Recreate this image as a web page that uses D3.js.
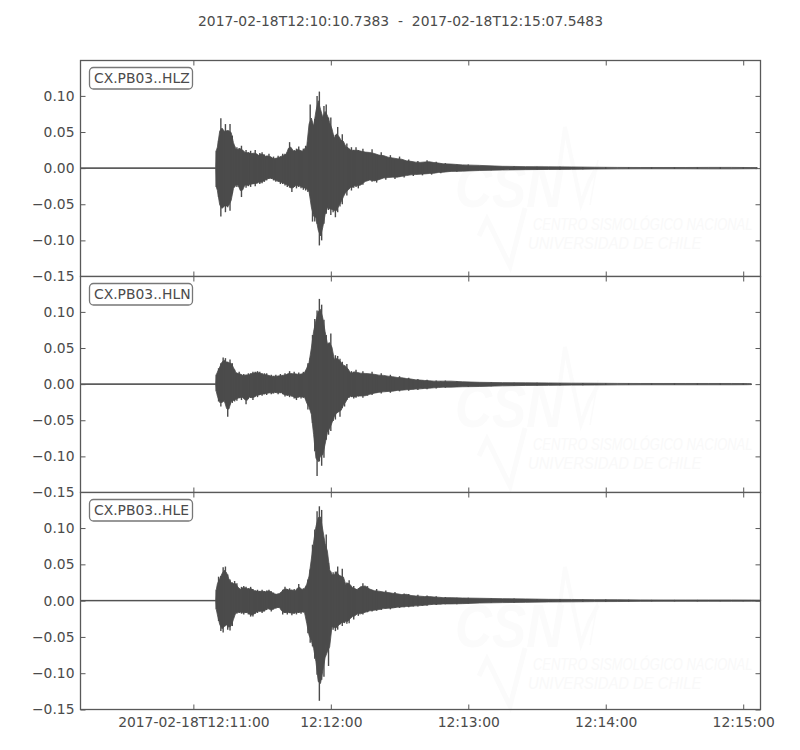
<!DOCTYPE html>
<html><head><meta charset="utf-8">
<script src="https://cdnjs.cloudflare.com/ajax/libs/d3/7.8.5/d3.min.js"></script>
<style>html,body{margin:0;padding:0;background:#fff}svg{display:block}text{font-family:"DejaVu Sans",sans-serif}</style>
</head><body><div id="chart"></div>
<script>
const title = "2017-02-18T12:10:10.7383  -  2017-02-18T12:15:07.5483";
const stations = ["CX.PB03..HLZ", "CX.PB03..HLN", "CX.PB03..HLE"];
const yTickValues = [-0.15, -0.10, -0.05, 0, 0.05, 0.10];
const xTickSeconds = [60, 120, 180, 240, 300];
const xTickLabels = ["2017-02-18T12:11:00", "12:12:00", "12:13:00", "12:14:00", "12:15:00"];
const startSecond = 10.7383, endSecond = 307.5483;
const endSeconds = [306, 303.5, 307.5];
const preEventHalfWidth = 0.0004;
const tailSeconds = [134,136,138,140,142,144,146,148,150,152,154,156,158,160,162,164,166,168,170,175,180,190,200,210,220,230,240,250,260,270,280,290,300];

// Envelope values, one per second from t = 70 s after 12:10:00, then at tailSeconds + channel end
const hiZ = [.024,.038,.069,.050,.061,.052,.061,.045,.030,.029,
 .028,.031,.023,.025,.022,.024,.020,.025,.018,.021,
 .022,.019,.017,.020,.015,.016,.013,.017,.016,.020,
 .020,.022,.036,.027,.025,.027,.030,.024,.027,.031,
 .036,.088,.060,.068,.100,.106,.066,.086,.088,.070,
 .070,.046,.046,.057,.036,.047,.032,.034,.027,.029,
 .025,.029,.025,
 .027,.021,.026,.017,.022,.015,.018,.012,.016,.010,.012,.008,.010,.007,.011,.008,.009,.006,.007,
 .005,.005,.003,.0025,.002,.002,.0015,.0012,.001,.001,.001,.001,.0012,.001,.0008];
const loZ = [-.026,-.040,-.067,-.054,-.061,-.054,-.059,-.035,-.026,-.026,
 -.026,-.040,-.024,-.027,-.025,-.026,-.022,-.025,-.021,-.022,
 -.021,-.019,-.017,-.015,-.015,-.017,-.019,-.019,-.022,-.022,
 -.024,-.026,-.027,-.033,-.026,-.028,-.026,-.028,-.030,-.031,
 -.033,-.038,-.074,-.074,-.077,-.107,-.100,-.077,-.063,-.058,
 -.065,-.061,-.068,-.061,-.053,-.050,-.035,-.038,-.028,-.031,
 -.027,-.026,-.028,
 -.023,-.017,-.019,-.020,-.014,-.016,-.012,-.015,-.012,-.013,-.009,-.011,-.008,-.010,-.007,-.009,-.006,-.007,-.005,
 -.005,-.004,-.003,-.0025,-.002,-.002,-.0015,-.0012,-.001,-.001,-.001,-.001,-.0012,-.001,-.0008];
const hiN = [.013,.022,.029,.037,.036,.031,.034,.029,.020,.015,
 .017,.013,.014,.013,.015,.015,.017,.017,.018,.017,
 .015,.015,.015,.012,.013,.011,.013,.011,.014,.012,
 .015,.014,.018,.014,.017,.014,.016,.014,.017,.018,
 .029,.036,.068,.090,.102,.118,.110,.089,.068,.054,
 .070,.036,.040,.039,.035,.031,.026,.028,.017,.018,
 .017,.020,.015,
 .018,.014,.017,.012,.015,.011,.013,.009,.011,.008,.009,.006,.007,.005,.006,.004,.005,.004,.005,
 .004,.003,.0025,.002,.002,.0015,.0015,.0012,.001,.001,.001,.001,.001,.001,.0007];
const loN = [-.010,-.024,-.031,-.024,-.026,-.045,-.028,-.026,-.024,-.023,
 -.019,-.022,-.018,-.028,-.020,-.019,-.022,-.017,-.018,-.015,
 -.016,-.014,-.015,-.012,-.014,-.013,-.012,-.014,-.012,-.014,
 -.017,-.016,-.018,-.017,-.020,-.022,-.018,-.020,-.019,-.020,
 -.035,-.035,-.054,-.093,-.127,-.107,-.113,-.102,-.077,-.070,
 -.065,-.051,-.049,-.038,-.045,-.033,-.031,-.022,-.019,-.018,
 -.020,-.019,-.017,
 -.019,-.016,-.015,-.012,-.013,-.010,-.012,-.009,-.010,-.008,-.009,-.007,-.008,-.006,-.007,-.005,-.006,-.004,-.005,
 -.004,-.004,-.003,-.002,-.002,-.0015,-.0015,-.0012,-.001,-.001,-.001,-.001,-.001,-.001,-.0007];
const hiE = [.015,.033,.034,.046,.047,.036,.029,.025,.027,.024,
 .015,.019,.020,.019,.017,.019,.016,.014,.015,.013,
 .015,.013,.014,.015,.013,.011,.009,.010,.011,.015,
 .019,.016,.017,.015,.016,.014,.023,.016,.017,.019,
 .029,.043,.077,.098,.123,.130,.125,.082,.091,.052,
 .040,.039,.040,.047,.027,.044,.024,.025,.028,.019,
 .020,.016,.017,
 .024,.020,.014,.016,.012,.014,.010,.012,.008,.010,.009,.006,.008,.005,.007,.005,.006,.004,.005,
 .004,.004,.003,.003,.002,.002,.0015,.0015,.0012,.001,.001,.001,.001,.001,.0008];
const loE = [-.012,-.028,-.042,-.044,-.033,-.040,-.041,-.035,-.019,-.018,
 -.017,-.018,-.019,-.017,-.019,-.022,-.022,-.018,-.017,-.015,
 -.017,-.015,-.013,-.011,-.015,-.012,-.011,-.010,-.010,-.019,
 -.017,-.019,-.017,-.020,-.018,-.019,-.017,-.018,-.016,-.019,
 -.045,-.058,-.063,-.080,-.102,-.138,-.109,-.105,-.060,-.090,
 -.040,-.040,-.042,-.040,-.033,-.035,-.031,-.032,-.031,-.022,
 -.026,-.019,-.021,
 -.019,-.016,-.015,-.014,-.013,-.011,-.012,-.010,-.010,-.009,-.009,-.008,-.008,-.007,-.007,-.005,-.006,-.005,-.005,
 -.005,-.004,-.003,-.003,-.002,-.002,-.0015,-.0015,-.0012,-.001,-.001,-.001,-.001,-.001,-.0008];
const highs = [hiZ, hiN, hiE], lows = [loZ, loN, loE];

const W = 800, H = 750, L = 80.5, R = 760.5, FS = 13.89;
const panelTops = [60.5, 276.5, 492.5], panelBottoms = [276.5, 492.5, 709.5];
const ink = "#4b4b4b", frame = "#595959";
const svg = d3.select("#chart").append("svg").attr("width", W).attr("height", H);

const t0 = Date.UTC(2017, 1, 18, 12, 10, 0);
const toDate = s => new Date(t0 + s * 1000);
const x = d3.scaleUtc().domain([toDate(startSecond), toDate(endSecond)]).range([L, R]);

svg.append("text").attr("x", 400.5).attr("y", 25.5).attr("text-anchor", "middle")
  .attr("font-size", FS).attr("fill", ink).attr("xml:space", "preserve")
  .style("white-space", "pre").text(title);

function watermark(g, dy) {
  const w = g.append("g").attr("transform", `translate(0,${dy})`).attr("pointer-events", "none");
  const c = "#fbfbfb";
  const txt = (label, px, py, size, sx, weight, fill) => w.append("text")
    .attr("transform", `translate(${px},${py}) scale(${sx},1)`).attr("font-size", size).attr("fill", fill)
    .attr("font-weight", weight).attr("font-style", "italic")
    .style("font-family", "'Liberation Sans'").text(label);
  txt("CSN", 455, 207, 61, 0.84, "bold", c);
  w.append("path").attr("fill", "none").attr("stroke", c).attr("stroke-width", 4).attr("stroke-linejoin", "miter")
    .attr("d", "M555,200L565,127L581,204L589,182L598,165");
  w.append("path").attr("fill", "none").attr("stroke", c).attr("stroke-width", 1.5).attr("d", "M598,160L590,205");
  w.append("path").attr("fill", "none").attr("stroke", c).attr("stroke-width", 5)
    .attr("d", "M479,236L487,219L510,266L525,208");
  txt("CENTRO SISMOLÓGICO NACIONAL", 533, 230, 17, 0.76, "normal", "#f9f9f9");
  txt("UNIVERSIDAD DE CHILE", 528, 249, 17, 0.87, "normal", "#f9f9f9");
}

stations.forEach((name, i) => {
  const top = panelTops[i], bot = panelBottoms[i];
  const y = d3.scaleLinear().domain([-0.15, 0.149]).range([bot, top]);
  const g = svg.append("g");

  g.append("rect").attr("x", L).attr("y", top).attr("width", R - L).attr("height", bot - top).attr("fill", "#fff");
  watermark(g, 220 * i);

  const times = [startSecond, 69.8, ...d3.range(70, 70 + 63), ...tailSeconds, endSeconds[i]];
  const hi = [preEventHalfWidth, preEventHalfWidth, ...highs[i]];
  const lo = [-preEventHalfWidth, -preEventHalfWidth, ...lows[i]];
  const rows = times.map((t, k) => ({ t, hi: hi[k], lo: lo[k] }));
  // solid body through the midpoints of neighbouring samples; every sample then stands out as a thin spike
  const active = rows.slice(2);
  const body = [rows[0], rows[1], active[0], ...active.map((d, k) => {
    const n = active[Math.min(k + 1, active.length - 1)];
    return {
      t: (d.t + n.t) / 2,
      hi: Math.min(d.hi, n.hi) * 0.35 + Math.max(d.hi, n.hi) * 0.55,
      lo: Math.max(d.lo, n.lo) * 0.35 + Math.min(d.lo, n.lo) * 0.55
    };
  })];
  const area = d3.area().x(d => x(toDate(d.t))).y0(d => y(d.lo)).y1(d => y(d.hi));
  g.append("path").datum(body).attr("d", area).attr("fill", ink).attr("stroke", ink).attr("stroke-width", 0.8);
  g.selectAll("line.spike").data(active).join("line").attr("class", "spike")
    .attr("x1", d => x(toDate(d.t))).attr("x2", d => x(toDate(d.t)))
    .attr("y1", d => y(d.lo)).attr("y2", d => y(d.hi))
    .attr("stroke", ink).attr("stroke-width", 1.4);

  const yAxis = d3.axisLeft(y).tickValues(yTickValues).tickFormat(d3.format(".2f"))
    .tickSizeInner(-5).tickSizeOuter(0).tickPadding(6);
  const yAxisR = d3.axisRight(y).tickValues(yTickValues).tickFormat("")
    .tickSizeInner(-5).tickSizeOuter(0);
  const xTicks = xTickSeconds.map(toDate);
  const xBot = d3.axisBottom(x).tickValues(xTicks)
    .tickFormat((d, k) => i === 2 ? xTickLabels[k] : "").tickSizeInner(-5).tickSizeOuter(0).tickPadding(8);
  const xTop = d3.axisTop(x).tickValues(xTicks).tickFormat("").tickSizeInner(-5).tickSizeOuter(0);

  const axes = [
    [yAxis, `translate(${L},0)`], [yAxisR, `translate(${R},0)`],
    [xBot, `translate(0,${bot})`], [xTop, `translate(0,${top})`]
  ];
  axes.forEach(([a, tr]) => {
    const ag = g.append("g").attr("transform", tr).call(a);
    ag.select(".domain").remove();
    ag.selectAll("line").attr("stroke", frame).attr("stroke-width", 1);
    ag.selectAll("text").attr("fill", ink).attr("font-size", FS).style("font-family", "'DejaVu Sans'");
  });

  g.append("rect").attr("x", L).attr("y", top).attr("width", R - L).attr("height", bot - top)
    .attr("fill", "none").attr("stroke", frame).attr("stroke-width", 1.3);

  g.append("rect").attr("x", 89.5).attr("y", top + 7).attr("width", 103).attr("height", 21.5)
    .attr("rx", 4).attr("fill", "#fff").attr("stroke", "#777").attr("stroke-width", 1.3);
  g.append("text").attr("x", 94).attr("y", top + 22).attr("font-size", FS).attr("fill", ink).text(name);
});
</script></body></html>
